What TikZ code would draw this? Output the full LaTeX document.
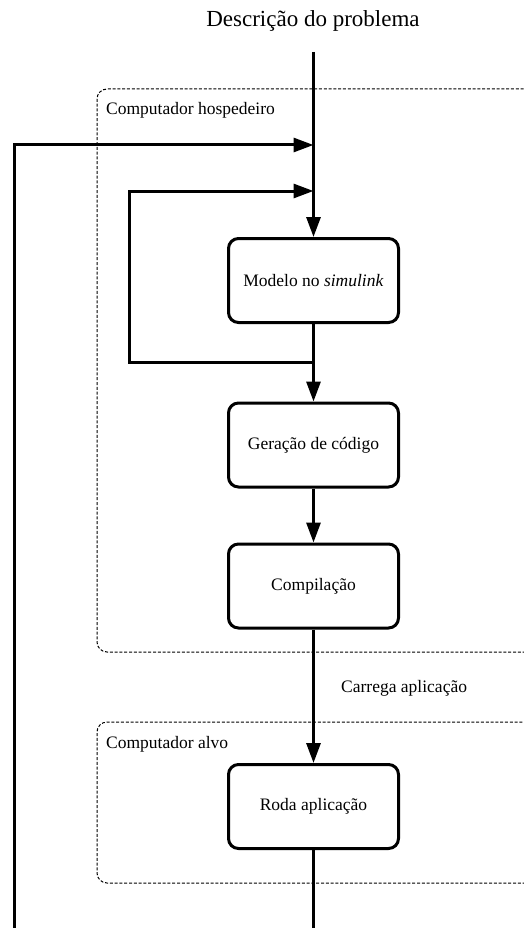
\documentclass[tikz,border=0pt]{standalone}
\usepackage{fontspec}
\setmainfont{Liberation Serif}
\usetikzlibrary{arrows.meta}
\begin{document}
\begin{tikzpicture}[x=1pt,y=-1pt,
  procbox/.style={draw=black, line width=3pt, rounded corners=10pt, minimum width=170pt, minimum height=84pt, inner sep=0pt, font=\fontsize{17.5}{20}\selectfont, fill=white},
  flow/.style={line width=3pt, -{Triangle[length=20pt,width=14pt]}},
  plain/.style={line width=3pt},
  group/.style={draw=black, line width=1pt, dash pattern=on 3pt off 1.8pt, rounded corners=10pt},
  lbl/.style={font=\fontsize{17.5}{20}\selectfont, inner sep=0pt}
]
\useasboundingbox (0,0) rectangle (524,928);
% groups
\draw[group] (540,652) -- (97,652) -- (97,89) -- (540,89);
\draw[group] (540,883) -- (97,883) -- (97,722) -- (540,722);
\node[lbl, anchor=base west] (hostlbl) at (106,115) {Computador hospedeiro};
\node[lbl, anchor=base west] (alvolbl) at (106,748) {Computador alvo};
% title
\node[font=\fontsize{23}{26}\selectfont, inner sep=0pt] (title) at (313,21) {Descrição do problema};
\coordinate (top) at (313.5,52);
% boxes
\node[procbox] (b1) at (313.5,280.5) {Modelo no \textit{simulink}};
\node[procbox] (b2) at (313.5,445) {Geração de código};
\node[procbox] (b3) at (313.5,586) {Compilação};
\node[procbox] (b4) at (313.5,806.5) {Roda aplicação};
\node[lbl, anchor=base west] (carrega) at (341,692) {Carrega aplicação};
% coordinates
\coordinate (bot) at (313.5,935);
\coordinate (j1) at (313.5,145);
\coordinate (j2) at (313.5,191);
\coordinate (j3) at (313.5,362);
\coordinate (ol) at (14,145);
\coordinate (olb) at (14,935);
\coordinate (il) at (129,191);
\coordinate (ilb) at (129,362);
% connectors
\draw[flow] (top) -- (b1.north);
\draw[flow] (b1.south) -- (b2.north);
\draw[flow] (b2.south) -- (b3.north);
\draw[flow] (b3.south) -- (b4.north);
\draw[plain] (b4.south) -- (bot);
\draw[flow] (olb) -- (ol) -- (j1);
\draw[flow] (j3) -- (ilb) -- (il) -- (j2);
\end{tikzpicture}
\end{document}
